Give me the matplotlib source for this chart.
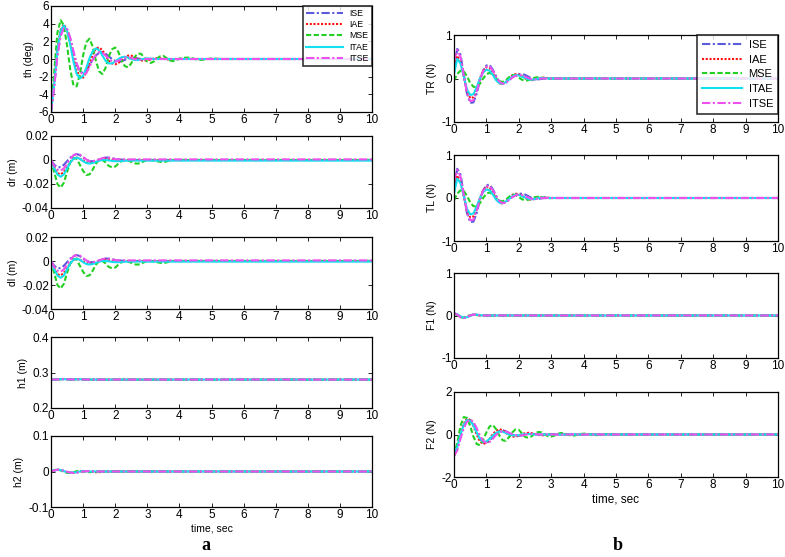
import numpy as np
import matplotlib
matplotlib.use("Agg")
import matplotlib.pyplot as plt

plt.rcParams['font.family'] = ['Liberation Sans', 'DejaVu Sans']

DT = 0.1      # sample spacing of the listed values (s)
T_END = 10.0  # simulation end (s)

methods = ["ISE", "IAE", "MSE", "ITAE", "ITSE"]

# ---- panel a ----
th = {
    "ISE": [-6, -3.0, 0.5, 2.7, 3.5, 3.4, 2.3, 0.7, -0.6, -1.4, -1.6, -1.3, -0.7, -0.1, 0.4, 0.7, 0.8, 0.6, 0.3, 0.0,
            -0.2, -0.3, -0.25, -0.1, 0.05, 0.12, 0.12, 0.06, 0.0, -0.04, -0.05, -0.02, 0.0],
    "IAE": [-6, -2.5, 1.2, 3.3, 3.9, 3.3, 1.8, 0.1, -1.3, -2.0, -2.1, -1.5, -0.5, 0.5, 1.2, 1.3, 1.0, 0.4, -0.2, -0.5,
            -0.6, -0.45, -0.1, 0.2, 0.38, 0.38, 0.2, 0.0, -0.15, -0.2, -0.15, -0.05, 0.05, 0.1, 0.08, 0.02, -0.03,
            -0.05, -0.03, 0.0],
    "MSE": [-6, -1.5, 3.0, 4.4, 3.8, 1.5, -1.2, -3.0, -3.1, -1.7, 0.4, 1.9, 2.3, 1.4, -0.2, -1.4, -1.7, -1.0, 0.3, 1.1,
            1.3, 0.8, -0.2, -0.8, -0.95, -0.5, 0.2, 0.6, 0.6, 0.2, -0.3, -0.45, -0.3, 0.05, 0.3, 0.35, 0.1, -0.15,
            -0.25, -0.15, 0.05, 0.12, 0.15, 0.15, 0.08, -0.02, -0.08, -0.1, -0.05, 0.02, 0.05, 0.05, 0.02, 0.0],
    "ITAE": [-6, -2.8, 1.0, 3.2, 3.8, 3.2, 1.6, -0.3, -1.7, -2.2, -1.9, -1.0, 0.1, 0.9, 1.2, 1.0, 0.4, -0.2, -0.5, -0.5,
             -0.3, 0.0, 0.2, 0.25, 0.15, 0.0, -0.1, -0.12, -0.06, 0.02, 0.06, 0.05, 0.0],
    "ITSE": [-6, -3.2, 0.3, 2.6, 3.5, 3.4, 2.4, 0.9, -0.5, -1.4, -1.8, -1.6, -0.9, -0.1, 0.5, 0.8, 0.7, 0.4, 0.0, -0.25,
             -0.3, -0.2, 0.0, 0.15, 0.2, 0.12, 0.0, -0.08, -0.1, -0.05, 0.02, 0.0],
}

dr = {
    "ISE": [0, -0.004, -0.006, -0.006, -0.004, -0.001, 0.002, 0.004, 0.005, 0.004, 0.002, 0.0, -0.001, -0.001,
            -0.0005, 0.0005, 0.0015, 0.002, 0.002, 0.0015, 0.001, 0.0005, 0.0003, 0.0002, 0.0],
    "IAE": [0, -0.006, -0.011, -0.012, -0.010, -0.006, -0.002, 0.001, 0.002, 0.001, -0.0005, -0.002, -0.0025, -0.002,
            -0.001, 0.0, 0.0008, 0.001, 0.0008, 0.0003, 0.0, -0.0003, -0.0003, 0.0],
    "MSE": [0, -0.010, -0.020, -0.023, -0.019, -0.010, -0.002, 0.002, 0.001, -0.004, -0.009, -0.0125, -0.012, -0.008,
            -0.003, 0.0, 0.0, -0.002, -0.005, -0.006, -0.0055, -0.003, -0.001, 0.0, -0.0005, -0.0015, -0.0028,
            -0.003, -0.0025, -0.001, 0.0, 0.0, -0.0005, -0.001, -0.0015, -0.0018, -0.0012, -0.0005, 0.0, 0.0,
            -0.0003, 0.0],
    "ITAE": [0, -0.007, -0.012, -0.014, -0.012, -0.007, -0.002, 0.001, 0.002, 0.001, -0.001, -0.0025, -0.003, -0.0025,
             -0.0015, -0.0005, 0.0, 0.0, -0.0003, -0.0008, -0.001, -0.001, -0.0008, -0.0006, -0.0005],
    "ITSE": [0, -0.005, -0.008, -0.009, -0.007, -0.003, 0.001, 0.004, 0.005, 0.0045, 0.0025, 0.0005, -0.0008, -0.001,
             -0.0005, 0.0005, 0.0015, 0.002, 0.0018, 0.0012, 0.0008, 0.0005, 0.0005],
}

dl = dr  # left and right displacements overlap in the figure

h1 = {
    "ISE": [0.28, 0.2802, 0.2805, 0.281, 0.2815, 0.281, 0.2805, 0.2805, 0.281, 0.281, 0.2805, 0.2802, 0.28],
    "IAE": [0.28, 0.2802, 0.2806, 0.2811, 0.2815, 0.2811, 0.2806, 0.2806, 0.2811, 0.2812, 0.2806, 0.2803, 0.28],
    "MSE": [0.28, 0.2803, 0.2807, 0.2812, 0.2816, 0.281, 0.2804, 0.2808, 0.2812, 0.2808, 0.2803, 0.2805, 0.28],
    "ITAE": [0.28, 0.2802, 0.2805, 0.281, 0.2814, 0.281, 0.2805, 0.2805, 0.2809, 0.281, 0.2805, 0.2802, 0.28],
    "ITSE": [0.28, 0.2802, 0.2805, 0.281, 0.2815, 0.281, 0.2805, 0.2805, 0.281, 0.281, 0.2805, 0.2802, 0.28],
}

h2 = {
    "ISE": [0, 0.003, 0.005, 0.004, 0.002, -0.001, -0.003, -0.004, -0.003, -0.001, 0.0, 0.001, 0.001, 0.0005, 0.0],
    "IAE": [0, 0.003, 0.005, 0.004, 0.001, -0.002, -0.004, -0.004, -0.002, 0.0, 0.001, 0.001, 0.0, -0.001, -0.002,
            -0.002, -0.001, 0.0],
    "MSE": [0, 0.004, 0.006, 0.003, -0.001, -0.004, -0.004, -0.002, 0.001, 0.002, 0.001, -0.001, -0.002, -0.001, 0.0],
    "ITAE": [0, 0.003, 0.005, 0.004, 0.001, -0.002, -0.003, -0.003, -0.002, 0.0, 0.001, 0.001, 0.0],
    "ITSE": [0, 0.003, 0.005, 0.004, 0.002, -0.001, -0.003, -0.004, -0.003, -0.001, 0.0, 0.001, 0.001, 0.0],
}

# ---- panel b ----
tr = {
    "ISE": [0.2, 0.68, 0.55, 0.1, -0.35, -0.56, -0.55, -0.35, -0.05, 0.18, 0.3, 0.31, 0.2, 0.05, -0.08, -0.12, -0.1,
            -0.04, 0.03, 0.08, 0.1, 0.1, 0.08, 0.04, 0.0, -0.02, -0.02, -0.01, 0.0],
    "IAE": [0.3, 0.52, 0.4, 0.05, -0.3, -0.45, -0.43, -0.25, 0.0, 0.18, 0.26, 0.24, 0.12, -0.02, -0.11, -0.13, -0.08,
            0.0, 0.07, 0.1, 0.09, 0.05, 0.0, -0.03, -0.04, -0.02, 0.0, 0.02, 0.02, 0.01, 0.0],
    "MSE": [-0.05, 0.1, 0.18, 0.17, 0.05, -0.1, -0.19, -0.2, -0.12, 0.0, 0.1, 0.13, 0.08, 0.0, -0.06, -0.08, -0.04,
            0.03, 0.08, 0.07, 0.02, -0.03, -0.05, -0.04, -0.01, 0.02, 0.03, 0.02, 0.0, -0.01, 0.0],
    "ITAE": [0.1, 0.45, 0.35, 0.05, -0.25, -0.38, -0.36, -0.2, 0.0, 0.14, 0.2, 0.18, 0.08, -0.04, -0.11, -0.12, -0.08,
             -0.02, 0.04, 0.08, 0.07, 0.04, 0.01, -0.02, -0.03, -0.02, 0.0, 0.01, 0.01, 0.0],
    "ITSE": [0.4, 0.66, 0.5, 0.08, -0.33, -0.52, -0.5, -0.3, -0.03, 0.17, 0.27, 0.28, 0.18, 0.04, -0.07, -0.12, -0.1,
             -0.04, 0.02, 0.06, 0.08, 0.07, 0.04, 0.01, -0.02, -0.02, -0.01, 0.0],
}

tl = tr  # right and left thrusters overlap in the figure

f1 = {
    "ISE": [0.05, 0.02, -0.04, -0.06, -0.04, 0.0, 0.02, 0.02, 0.01, 0.0],
    "IAE": [0.05, 0.02, -0.03, -0.05, -0.03, 0.0, 0.02, 0.02, 0.0],
    "MSE": [0.04, 0.01, -0.04, -0.05, -0.02, 0.01, 0.02, 0.01, 0.0],
    "ITAE": [0.05, 0.03, -0.02, -0.05, -0.04, -0.01, 0.02, 0.02, 0.01, 0.0],
    "ITSE": [0.05, 0.02, -0.04, -0.06, -0.04, 0.0, 0.02, 0.02, 0.0],
}

f2 = {
    "ISE": [-1.0, -0.7, -0.1, 0.4, 0.68, 0.7, 0.5, 0.15, -0.2, -0.38, -0.4, -0.3, -0.12, 0.05, 0.16, 0.2, 0.15, 0.07,
            -0.01, -0.05, -0.06, -0.04, 0.0, 0.03, 0.03, 0.02, 0.0],
    "IAE": [-1.0, -0.6, 0.05, 0.5, 0.75, 0.68, 0.4, 0.0, -0.33, -0.45, -0.38, -0.2, 0.02, 0.18, 0.25, 0.2, 0.08, -0.04,
            -0.1, -0.1, -0.05, 0.02, 0.06, 0.08, 0.06, 0.02, -0.02, -0.04, -0.03, 0.0, 0.02, 0.02, 0.0],
    "MSE": [-1.0, -0.4, 0.4, 0.82, 0.78, 0.4, -0.1, -0.45, -0.5, -0.25, 0.1, 0.38, 0.45, 0.25, -0.05, -0.27, -0.3,
            -0.12, 0.1, 0.24, 0.22, 0.05, -0.12, -0.15, -0.08, 0.05, 0.12, 0.1, 0.0, -0.08, -0.1, -0.05, 0.03, 0.07,
            0.06, 0.0, -0.05, -0.05, -0.02, 0.02, 0.04, 0.04, 0.01, -0.02, -0.03, -0.02, 0.0, 0.02, 0.02, 0.01, 0.0],
    "ITAE": [-0.9, -0.6, 0.0, 0.45, 0.68, 0.65, 0.42, 0.1, -0.2, -0.34, -0.33, -0.2, -0.05, 0.08, 0.14, 0.13, 0.07,
             0.0, -0.04, -0.05, -0.03, 0.0, 0.02, 0.02, 0.01, 0.0],
    "ITSE": [-1.0, -0.75, -0.2, 0.3, 0.6, 0.7, 0.6, 0.3, -0.05, -0.3, -0.4, -0.35, -0.2, -0.02, 0.1, 0.15, 0.14, 0.08,
             0.02, -0.03, -0.05, -0.04, -0.01, 0.02, 0.03, 0.02, 0.0],
}

# line style per method (dash patterns in units of line width)
styles = {
    "ISE": dict(color="#5b5bdc", ls=(0, (4, 1.2, 1, 1.2))),
    "IAE": dict(color="#ff1010", ls=(0, (1, 0.8))),
    "MSE": dict(color="#22d022", ls=(0, (2.5, 1.2))),
    "ITAE": dict(color="#10e0f0", ls="-"),
    "ITSE": dict(color="#ee50ee", ls=(0, (4, 1.2, 1, 1.2))),
}

W, H = 785, 557


def px_axes(fig, left, top, right, bottom):
    return fig.add_axes([left / W, 1 - bottom / H, (right - left) / W, (bottom - top) / H])


def draw(ax, series, ylim, yticks, ylabel):
    for m in methods:
        vals = series[m]
        t = list(np.arange(len(vals)) * DT) + [T_END]
        y = list(vals) + [vals[-1]]
        ax.plot(t, y, lw=1.5, label=m, **styles[m])
    ax.set_xlim(0, 10)
    ax.set_ylim(*ylim)
    ax.set_xticks(range(0, 11))
    ax.set_yticks(yticks)
    ax.set_yticklabels([f"{v:g}" for v in yticks])
    ax.set_ylabel(ylabel, fontsize=7.5, labelpad=3)
    ax.tick_params(direction="in", top=True, right=True, length=3, width=0.6,
                   labelsize=8.5, pad=1.5)
    for s in ax.spines.values():
        s.set_linewidth(0.9)


fig = plt.figure(figsize=(W / 100, H / 100), dpi=100)

# left column
ax = px_axes(fig, 51, 6, 372, 112)
draw(ax, th, (-6, 6), [-6, -4, -2, 0, 2, 4, 6], "th (deg)")
leg = ax.legend(loc="upper right", fontsize=6.3, frameon=True, fancybox=False,
                edgecolor="black", handlelength=4.2, labelspacing=0.25,
                borderaxespad=0.0, handletextpad=0.8, borderpad=0.35)
leg.get_frame().set_linewidth(1.2)

ax = px_axes(fig, 51, 136, 372, 208)
draw(ax, dr, (-0.04, 0.02), [-0.04, -0.02, 0, 0.02], "dr (m)")
ax = px_axes(fig, 51, 237, 372, 309)
draw(ax, dl, (-0.04, 0.02), [-0.04, -0.02, 0, 0.02], "dl (m)")
ax = px_axes(fig, 51, 337, 372, 408)
draw(ax, h1, (0.2, 0.4), [0.2, 0.3, 0.4], "h1 (m)")
ax = px_axes(fig, 51, 436, 372, 507)
draw(ax, h2, (-0.1, 0.1), [-0.1, 0, 0.1], "h2 (m)")
ax.set_xlabel("time, sec", fontsize=7.5, labelpad=2)

# right column
ax = px_axes(fig, 454, 35, 778, 122)
draw(ax, tr, (-1, 1), [-1, 0, 1], "TR (N)")
leg = ax.legend(loc="upper right", fontsize=8, frameon=True, fancybox=False,
                edgecolor="black", handlelength=3.6, labelspacing=0.42,
                borderaxespad=0.0, handletextpad=0.6, borderpad=0.45)
leg.get_frame().set_linewidth(1.2)

ax = px_axes(fig, 454, 155, 778, 241)
draw(ax, tl, (-1, 1), [-1, 0, 1], "TL (N)")
ax = px_axes(fig, 454, 273, 778, 358)
draw(ax, f1, (-1, 1), [-1, 0, 1], "F1 (N)")
ax = px_axes(fig, 454, 392, 778, 477)
draw(ax, f2, (-2, 2), [-2, 0, 2], "F2 (N)")
ax.set_xlabel("time, sec", fontsize=8.5, labelpad=2)

fig.text(206 / W, 1 - 546 / H, "a", fontsize=13, fontweight="bold",
         family="Liberation Serif", ha="center", va="center")
fig.text(618 / W, 1 - 545 / H, "b", fontsize=13, fontweight="bold",
         family="Liberation Serif", ha="center", va="center")

fig.savefig("out.png", dpi=100)
